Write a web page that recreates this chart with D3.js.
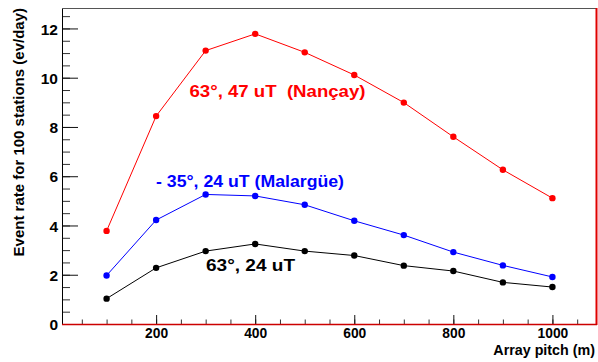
<!DOCTYPE html>
<html><head><meta charset="utf-8">
<script src="https://cdn.jsdelivr.net/npm/d3@7"></script>
<style>body{margin:0;background:#fff}svg{display:block}</style>
</head><body>
<svg id="c" width="598" height="362"></svg>
<script>
const pitches  = [100, 200, 300, 400, 500, 600, 700, 800, 900, 1000];
const nancay   = [3.78, 8.44, 11.10, 11.78, 11.03, 10.11, 8.99, 7.60, 6.26, 5.11];
const malargue = [1.97, 4.22, 5.26, 5.20, 4.84, 4.19, 3.61, 2.92, 2.38, 1.91];
const lowField = [1.03, 2.28, 2.96, 3.25, 2.96, 2.78, 2.37, 2.15, 1.69, 1.50];
const xTickLabels = [200, 400, 600, 800, 1000];
const yTickLabels = [0, 2, 4, 6, 8, 10, 12];
const seriesNames = ["63°, 47 uT  (Nançay)", "- 35°, 24 uT (Malargüe)", "63°, 24 uT"];
const xTitle = "Array pitch (m)";
const yTitle = "Event rate for 100 stations (ev/day)";

const L = 62, R = 597, T = 8, B = 324;
const svg = d3.select("#c");
const x = d3.scaleLinear().domain([10, 1090]).range([L, R]);
const y = d3.scaleLinear().domain([0, 12.83]).range([B, T]);

// minor x ticks
const gxm = svg.append("g").attr("transform", `translate(0,${B})`)
  .call(d3.axisBottom(x).tickValues(d3.range(50, 1090, 50)).tickSize(-4.5).tickFormat(""));
gxm.select(".domain").remove();
gxm.selectAll("line").attr("stroke", "#333");
// major x ticks
const gx = svg.append("g").attr("transform", `translate(0,${B})`)
  .call(d3.axisBottom(x).tickValues(xTickLabels).tickFormat(d3.format("d")).tickSize(-9).tickPadding(5));
gx.select(".domain").remove();
gx.selectAll("line").attr("stroke", "#111");
gx.selectAll("text").attr("dy", "0.68em").attr("fill", "#000")
  .style("font", "bold 13.8px 'Liberation Sans', Arial, sans-serif");

// minor y ticks
const gym = svg.append("g").attr("transform", `translate(${L},0)`)
  .call(d3.axisLeft(y).tickValues(d3.range(0.5, 12.8, 0.5)).tickSize(-8).tickFormat(""));
gym.select(".domain").remove();
gym.selectAll("line").attr("stroke", "#333");
const gy = svg.append("g").attr("transform", `translate(${L},0)`)
  .call(d3.axisLeft(y).tickValues(yTickLabels).tickFormat(d3.format("d")).tickSize(-16).tickPadding(4));
gy.select(".domain").remove();
gy.selectAll("line").attr("stroke", "#111");
gy.selectAll("text").attr("dy", "0.36em").attr("fill", "#000")
  .style("font", "bold 15.5px 'Liberation Sans', Arial, sans-serif");

// frame
svg.append("line").attr("x1", L + 0.5).attr("x2", L + 0.5).attr("y1", T).attr("y2", B).attr("stroke", "#000");
svg.append("line").attr("x1", L).attr("x2", R).attr("y1", T + 0.5).attr("y2", T + 0.5).attr("stroke", "#555");
svg.append("line").attr("x1", R - 0.5).attr("x2", R - 0.5).attr("y1", T).attr("y2", B + 1).attr("stroke", "#e00000").attr("stroke-width", 2);
svg.append("line").attr("x1", L).attr("x2", R).attr("y1", B + 0.5).attr("y2", B + 0.5).attr("stroke", "#cc0000").attr("stroke-width", 1.5);

// series
const series = [
  {vals: nancay, color: "#ff0000"},
  {vals: malargue, color: "#0000ff"},
  {vals: lowField, color: "#000000"}
];
const line = d3.line().x((d, i) => x(pitches[i])).y(d => y(d));
series.forEach(s => {
  svg.append("path").attr("d", line(s.vals)).attr("fill", "none")
    .attr("stroke", s.color).attr("stroke-width", 1);
  svg.append("g").selectAll("circle").data(s.vals).join("circle")
    .attr("cx", (d, i) => x(pitches[i])).attr("cy", d => y(d)).attr("r", 3.2)
    .attr("fill", s.color);
});

// series labels
const labelFont = "bold 16px 'Liberation Sans', Arial, sans-serif";
const labels = [
  {t: seriesNames[0], c: "#ff0000", x: 189.5, y: 97, w: 176},
  {t: seriesNames[1], c: "#0000ff", x: 156, y: 187, w: 188},
  {t: seriesNames[2], c: "#000000", x: 206, y: 270.5, w: 89}
];
labels.forEach(l => {
  svg.append("text").attr("x", l.x).attr("y", l.y).attr("fill", l.c)
    .attr("textLength", l.w).attr("lengthAdjust", "spacingAndGlyphs")
    .style("white-space", "pre")
    .style("font", labelFont).text(l.t);
});

// axis titles
svg.append("text").attr("x", R - 2).attr("y", 355).attr("text-anchor", "end")
  .style("font", "bold 14.3px 'Liberation Sans', Arial, sans-serif").text(xTitle);
svg.append("text").attr("transform", `translate(24,${T}) rotate(-90)`).attr("text-anchor", "end")
  .style("font", "bold 15px 'Liberation Sans', Arial, sans-serif").text(yTitle);
</script>
</body></html>
